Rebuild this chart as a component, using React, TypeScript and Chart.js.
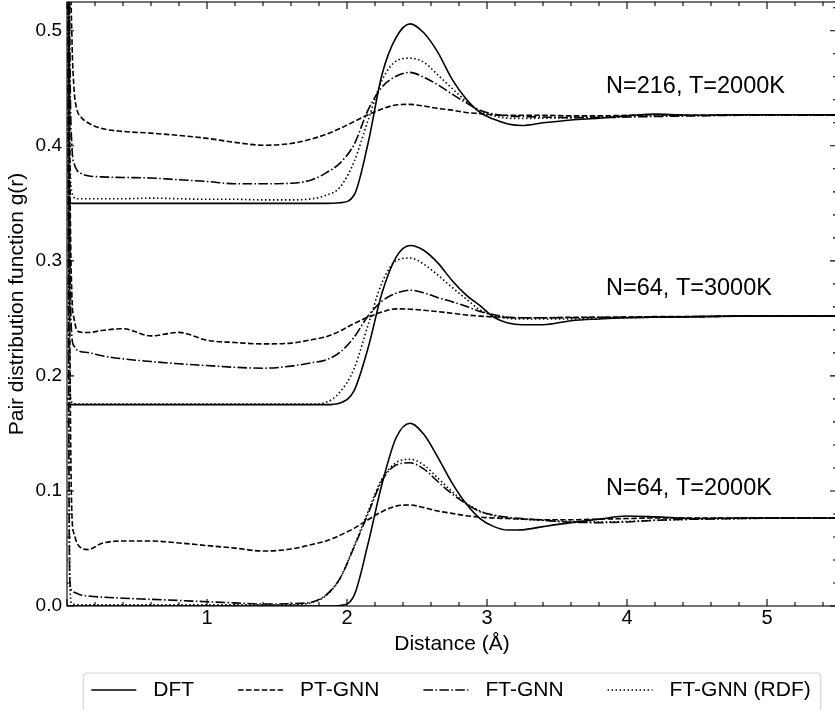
import React, { useEffect, useRef } from "react";
import { Chart, registerables } from "chart.js";

Chart.register(...registerables);

const FONT = "'Liberation Sans', Arial, Helvetica, sans-serif";

// distance grid (Å)
const r = [0, 0.01, 0.02, 0.035, 0.05, 0.07, 0.1, 0.15, 0.25, 0.4, 0.6, 0.8, 1.0, 1.2, 1.4, 1.6, 1.75, 1.85, 1.95, 2.05, 2.15, 2.25, 2.35, 2.45, 2.55, 2.65, 2.75, 2.85, 2.95, 3.05, 3.15, 3.25, 3.4, 3.6, 3.8, 4.0, 4.2, 4.5, 4.8, 5.1, 5.5];

// N=216, T=2000K (offset 0.35)
const dftTop = [0.35, 0.35, 0.35, 0.35, 0.35, 0.35, 0.35, 0.35, 0.35, 0.35, 0.35, 0.35, 0.35, 0.35, 0.35, 0.35, 0.35, 0.35, 0.3505, 0.357, 0.402, 0.462, 0.494, 0.506, 0.498, 0.481, 0.458, 0.441, 0.429, 0.423, 0.419, 0.4177, 0.42, 0.4225, 0.424, 0.426, 0.4275, 0.4265, 0.427, 0.427, 0.427];
const ptTop = [1.2, 0.9, 0.62, 0.495, 0.45, 0.432, 0.425, 0.42, 0.415, 0.4125, 0.411, 0.409, 0.4065, 0.403, 0.4005, 0.402, 0.406, 0.41, 0.415, 0.421, 0.427, 0.432, 0.4355, 0.436, 0.4345, 0.4325, 0.431, 0.429, 0.428, 0.427, 0.4265, 0.4265, 0.4265, 0.426, 0.426, 0.4265, 0.427, 0.4265, 0.427, 0.427, 0.4265];
const ftTop = [1.2, 0.8, 0.5, 0.4, 0.385, 0.379, 0.376, 0.374, 0.373, 0.3725, 0.372, 0.3705, 0.369, 0.367, 0.367, 0.3675, 0.3705, 0.3765, 0.385, 0.401, 0.431, 0.451, 0.4605, 0.4638, 0.4595, 0.453, 0.445, 0.4375, 0.431, 0.4275, 0.426, 0.4255, 0.425, 0.4245, 0.4245, 0.425, 0.4255, 0.426, 0.4265, 0.4265, 0.4265];
const rdfTop = [1.2, 0.7, 0.4, 0.36, 0.355, 0.354, 0.354, 0.354, 0.354, 0.354, 0.3545, 0.354, 0.3535, 0.3535, 0.353, 0.353, 0.354, 0.357, 0.364, 0.386, 0.422, 0.457, 0.4735, 0.4762, 0.4725, 0.4615, 0.45, 0.439, 0.4298, 0.426, 0.424, 0.4238, 0.424, 0.4245, 0.425, 0.4255, 0.426, 0.4265, 0.4265, 0.427, 0.4265];

// N=64, T=3000K (offset 0.175)
const dftMid = [0.175, 0.175, 0.175, 0.175, 0.175, 0.175, 0.175, 0.175, 0.175, 0.175, 0.175, 0.175, 0.175, 0.175, 0.175, 0.175, 0.175, 0.175, 0.1765, 0.187, 0.224, 0.272, 0.303, 0.3133, 0.309, 0.298, 0.283, 0.2705, 0.261, 0.251, 0.246, 0.2445, 0.2445, 0.248, 0.2495, 0.2505, 0.251, 0.2515, 0.252, 0.252, 0.252];
const ptMid = [1.2, 0.7, 0.4, 0.27, 0.25, 0.24, 0.238, 0.2377, 0.2395, 0.241, 0.2348, 0.2378, 0.231, 0.229, 0.2278, 0.2285, 0.2315, 0.234, 0.239, 0.2455, 0.251, 0.2555, 0.2583, 0.258, 0.257, 0.2558, 0.2545, 0.253, 0.252, 0.2512, 0.2508, 0.2505, 0.2505, 0.251, 0.251, 0.2512, 0.2515, 0.2515, 0.252, 0.252, 0.252];
const ftMid = [1.2, 0.6, 0.33, 0.234, 0.226, 0.2226, 0.221, 0.2203, 0.2175, 0.2148, 0.2125, 0.2105, 0.209, 0.2075, 0.2067, 0.2085, 0.2115, 0.2139, 0.2205, 0.2335, 0.252, 0.265, 0.2718, 0.2745, 0.2722, 0.268, 0.2645, 0.2605, 0.2559, 0.2532, 0.251, 0.2505, 0.2505, 0.2505, 0.251, 0.251, 0.2512, 0.2515, 0.252, 0.252, 0.252];
const rdfMid = [1.2, 0.5, 0.2, 0.177, 0.176, 0.1755, 0.1755, 0.1755, 0.1755, 0.1755, 0.1755, 0.1755, 0.1755, 0.1755, 0.1755, 0.1755, 0.1755, 0.177, 0.186, 0.206, 0.244, 0.281, 0.3, 0.3025, 0.297, 0.2875, 0.277, 0.267, 0.2574, 0.2525, 0.25, 0.2495, 0.2495, 0.2495, 0.25, 0.2505, 0.251, 0.2515, 0.252, 0.252, 0.252];

// N=64, T=2000K (offset 0)
const dftBot = [0, 0, 0, 0, 0, 0, 0, 0, 0, 0, 0, 0, 0, 0, 0, 0, 0, 0, 0.0005, 0.009, 0.054, 0.106, 0.146, 0.1589, 0.149, 0.129, 0.107, 0.089, 0.076, 0.069, 0.066, 0.0662, 0.069, 0.0725, 0.0755, 0.0782, 0.0775, 0.076, 0.0765, 0.0765, 0.0765];
const ptBot = [1.2, 0.6, 0.25, 0.08, 0.063, 0.055, 0.0505, 0.049, 0.0545, 0.0565, 0.0565, 0.0548, 0.0525, 0.0503, 0.0478, 0.0495, 0.0535, 0.0565, 0.0615, 0.0675, 0.075, 0.082, 0.0868, 0.0878, 0.0855, 0.0825, 0.0805, 0.0785, 0.0772, 0.0765, 0.076, 0.0755, 0.075, 0.075, 0.0755, 0.076, 0.0765, 0.0765, 0.0765, 0.0765, 0.0765];
const ftBot = [1.2, 0.3, 0.0226, 0.014, 0.012, 0.011, 0.0095, 0.0087, 0.0077, 0.0068, 0.0058, 0.0048, 0.0037, 0.0027, 0.0017, 0.002, 0.0035, 0.0095, 0.024, 0.051, 0.08, 0.109, 0.1225, 0.1245, 0.119, 0.108, 0.0975, 0.089, 0.082, 0.079, 0.0771, 0.076, 0.0745, 0.0728, 0.0725, 0.073, 0.0745, 0.0755, 0.076, 0.0765, 0.0765];
const rdfBot = [1.2, 0.4, 0.02, 0.002, 0.0015, 0.001, 0.001, 0.001, 0.001, 0.001, 0.001, 0.001, 0.001, 0.001, 0.001, 0.001, 0.003, 0.009, 0.024, 0.052, 0.082, 0.1105, 0.1245, 0.1275, 0.1225, 0.111, 0.0995, 0.0895, 0.0825, 0.0785, 0.0765, 0.0755, 0.0745, 0.0735, 0.073, 0.0735, 0.0745, 0.0755, 0.076, 0.0765, 0.0765];

const methods = ["DFT", "PT-GNN", "FT-GNN", "FT-GNN (RDF)"];
const methodDash = [[], [5.5, 2.4], [9.6, 2.4, 1.5, 2.4], [1.5, 2.5]];

const panelNames = ["N=216, T=2000K", "N=64, T=3000K", "N=64, T=2000K"];
const panelSeries = [
  [dftTop, ptTop, ftTop, rdfTop],
  [dftMid, ptMid, ftMid, rdfMid],
  [dftBot, ptBot, ftBot, rdfBot],
];
const panelLabelX = [3.85, 3.85, 3.85];
const panelLabelY = [0.4513, 0.2757, 0.1017];

const xTickValues = [1, 2, 3, 4, 5];
const yTickValues = [0, 0.1, 0.2, 0.3, 0.4, 0.5];
const xMin = 0, xMax = 5.5, yMin = 0, yMax = 0.525;

const decorPlugin = {
  id: "decor",
  afterDatasetsDraw(chart: any) {
    const { ctx, chartArea: ca, scales } = chart;
    const xs = scales.x, ys = scales.y;
    ctx.save();
    ctx.setLineDash([]);
    ctx.strokeStyle = "#000";
    ctx.lineWidth = 1.1;
    ctx.strokeRect(ca.left, ca.top, ca.right - ca.left, ca.bottom - ca.top);
    for (let i = 0; i <= 27; i++) {
      const v = i * 0.2;
      const px = xs.getPixelForValue(v);
      const len = i % 5 === 0 ? 7 : 4;
      ctx.beginPath();
      ctx.moveTo(px, ca.bottom);
      ctx.lineTo(px, ca.bottom - len);
      ctx.moveTo(px, ca.top);
      ctx.lineTo(px, ca.top + len);
      ctx.stroke();
    }
    for (let i = 0; i <= 26; i++) {
      const v = i * 0.02;
      const py = ys.getPixelForValue(v);
      const len = i % 5 === 0 ? 7 : 4;
      ctx.beginPath();
      ctx.moveTo(ca.left, py);
      ctx.lineTo(ca.left + len, py);
      ctx.moveTo(ca.right, py);
      ctx.lineTo(ca.right - len, py);
      ctx.stroke();
    }
    ctx.fillStyle = "#000";
    ctx.font = `23.5px ${FONT}`;
    ctx.textAlign = "left";
    ctx.textBaseline = "middle";
    panelNames.forEach((t, i) => {
      ctx.fillText(t, xs.getPixelForValue(panelLabelX[i]), ys.getPixelForValue(panelLabelY[i]));
    });
    ctx.restore();
  },
  afterDraw(chart: any) {
    const { ctx, chartArea: ca } = chart;
    ctx.save();
    ctx.font = `21px ${FONT}`;
    const lineLen = 45, textGap = 17, colGap = 44;
    const widths = methods.map((m) => ctx.measureText(m).width);
    const total = widths.reduce((a, w) => a + lineLen + textGap + w, 0) + colGap * (methods.length - 1);
    let x = (ca.left + ca.right) / 2 - total / 2 - 1;
    const boxTop = ca.bottom + 67;
    const cy = boxTop + 17;
    const bx = x - 8, bw = total + 18, bh = 60, rad = 4;
    ctx.strokeStyle = "rgba(204,204,204,0.8)";
    ctx.lineWidth = 1.2;
    ctx.beginPath();
    ctx.moveTo(bx + rad, boxTop);
    ctx.lineTo(bx + bw - rad, boxTop);
    ctx.quadraticCurveTo(bx + bw, boxTop, bx + bw, boxTop + rad);
    ctx.lineTo(bx + bw, boxTop + bh);
    ctx.moveTo(bx, boxTop + bh);
    ctx.lineTo(bx, boxTop + rad);
    ctx.quadraticCurveTo(bx, boxTop, bx + rad, boxTop);
    ctx.stroke();
    ctx.fillStyle = "#000";
    ctx.textAlign = "left";
    ctx.textBaseline = "middle";
    methods.forEach((m, i) => {
      ctx.strokeStyle = "#000";
      ctx.lineWidth = 1.6;
      ctx.setLineDash(methodDash[i]);
      ctx.beginPath();
      ctx.moveTo(x, cy);
      ctx.lineTo(x + lineLen, cy);
      ctx.stroke();
      ctx.fillText(m, x + lineLen + textGap, cy);
      x += lineLen + textGap + widths[i] + colGap;
    });
    ctx.restore();
  },
};

export default function App() {
  const canvasRef = useRef<HTMLCanvasElement | null>(null);

  useEffect(() => {
    if (!canvasRef.current) return;
    const datasets: any[] = [];
    panelSeries.forEach((series, p) => {
      series.forEach((vals, m) => {
        datasets.push({
          label: `${methods[m]} (${panelNames[p]})`,
          data: r.map((x, k) => ({ x, y: vals[k] })),
          borderColor: "#000",
          backgroundColor: "#000",
          borderWidth: 1.6,
          borderDash: methodDash[m],
          pointRadius: 0,
          fill: false,
          cubicInterpolationMode: "monotone",
        });
      });
    });

    const chart = new Chart(canvasRef.current, {
      type: "line",
      data: { datasets },
      options: {
        animation: false,
        responsive: false,
        maintainAspectRatio: false,
        events: [],
        layout: { padding: { top: 2, left: 0, right: 0, bottom: 0 } },
        plugins: { legend: { display: false }, tooltip: { enabled: false } },
        scales: {
          x: {
            type: "linear",
            min: xMin,
            max: xMax,
            grid: { display: false, drawTicks: false },
            border: { display: false },
            ticks: {
              color: "#000",
              font: { family: FONT, size: 20, lineHeight: 1 },
              padding: 2,
              maxRotation: 0,
              callback: (v: any) => String(v),
            },
            title: {
              display: true,
              text: "Distance (Å)",
              color: "#000",
              font: { family: FONT, size: 21, lineHeight: 1.2 },
              padding: { top: 4, bottom: 53 },
            },
            afterBuildTicks: (s: any) => {
              s.ticks = xTickValues.map((v) => ({ value: v }));
            },
            afterFit: (s: any) => {
              s.height = 104;
              s.paddingLeft = 0;
              s.paddingRight = 0;
            },
          },
          y: {
            type: "linear",
            min: yMin,
            max: yMax,
            grid: { display: false, drawTicks: false },
            border: { display: false },
            ticks: {
              color: "#000",
              font: { family: FONT, size: 19 },
              padding: 5,
              callback: (v: any) => Number(v).toFixed(1),
            },
            title: {
              display: true,
              text: "Pair distribution function g(r)",
              color: "#000",
              font: { family: FONT, size: 21, lineHeight: 1.2 },
              padding: { top: 5, bottom: 0 },
            },
            afterBuildTicks: (s: any) => {
              s.ticks = yTickValues.map((v) => ({ value: v }));
            },
            afterFit: (s: any) => {
              s.width = 67;
              s.paddingTop = 0;
              s.paddingBottom = 0;
            },
          },
        },
      },
      plugins: [decorPlugin],
    } as any);
    return () => chart.destroy();
  }, []);

  return (
    <div style={{ position: "fixed", left: 0, top: 0, width: 835, height: 710, overflow: "hidden", background: "#fff" }}>
      <canvas ref={canvasRef} width={837} height={710} style={{ display: "block" }} />
    </div>
  );
}
